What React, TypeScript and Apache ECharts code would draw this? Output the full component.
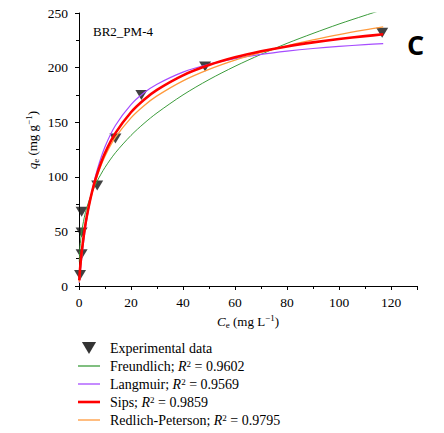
import React, { useEffect, useRef } from "react";
import * as echarts from "echarts";

const expC = [0.4, 1, 1, 1, 7, 14, 24, 48.5, 116.6];
const expQ = [10, 29, 49, 68, 92, 135, 175, 201, 232];

const fitC = [0.1, 0.3, 0.5, 1, 2, 3, 5, 7, 10, 14, 20, 25, 30, 40, 50, 60, 70, 80, 90, 100, 110, 117];
const freundlichQ = [22.3, 32.5, 38.8, 49.2, 62.4, 71.8, 85.6, 96.1, 108.6, 122.0, 137.9, 148.9, 158.5, 175.0, 189.0, 201.2, 212.1, 222.2, 231.3, 239.9, 247.8, 253.2];
const langmuirQ = [2.7, 7.9, 12.9, 24.6, 44.5, 61.1, 87.0, 106.3, 127.5, 147.0, 166.1, 176.9, 184.8, 195.9, 203.1, 208.3, 212.1, 215.1, 217.5, 219.4, 221.0, 222.0];
const sipsQ = [5.2, 12.3, 18.2, 30.4, 49.2, 63.8, 86.1, 102.8, 121.8, 140.0, 159.1, 170.6, 179.6, 192.9, 202.3, 209.4, 214.9, 219.4, 223.1, 226.2, 228.8, 230.5];
const rpQ = [3.4, 9.8, 15.5, 27.9, 47.5, 62.6, 84.8, 101.0, 118.8, 136.0, 154.0, 165.1, 174.1, 187.9, 198.4, 206.9, 213.9, 220.0, 225.3, 230.2, 234.5, 237.2];

const modelNames = ["Freundlich", "Langmuir", "Sips", "Redlich-Peterson"];
const modelR2 = ["0.9602", "0.9569", "0.9859", "0.9795"];
const modelColors = ["#3c9c3c", "#a64dff", "#ff0000", "#ff9a3c"];
const modelWidths = [1, 1.2, 2.6, 1.3];
const modelData = [freundlichQ, langmuirQ, sipsQ, rpQ];

const expName = "Experimental data";
const FONT = "Liberation Serif";
const TRI = "path://M0,0 L10,0 L5,8.5 Z";
const lineIcon = (w: number) => `path://M0,0 L22,0 L22,${w} L0,${w} Z`;

export default function App() {
  const ref = useRef<HTMLDivElement>(null);
  useEffect(() => {
    if (!ref.current) return;
    const chart = echarts.init(ref.current, undefined, { renderer: "svg" });
    const pair = (xs: number[], ys: number[]) => xs.map((x, i) => [x, ys[i]]);
    const series: any[] = [
      {
        name: expName,
        type: "scatter",
        data: pair(expC, expQ),
        symbol: TRI,
        symbolSize: [12, 10],
        itemStyle: { color: "#111" },
        z: 1,
      },
      ...modelNames.map((n, i) => ({
        name: n,
        type: "line",
        data: pair(fitC, modelData[i]),
        smooth: 0.3,
        showSymbol: false,
        symbol: "none",
        lineStyle: { color: modelColors[i], width: modelWidths[i] },
        itemStyle: { color: modelColors[i] },
        z: i === 2 ? 4 : 3,
      })),
    ];
    const rich = {
      g: { fontFamily: FONT, fontSize: 14, width: 5, lineHeight: 14 },
      n: { fontFamily: FONT, fontSize: 14, color: "#000", lineHeight: 14 },
      i: { fontFamily: FONT, fontSize: 14, fontStyle: "italic", color: "#000", lineHeight: 14 },
      sup: { fontFamily: FONT, fontSize: 9, color: "#000", verticalAlign: "top", lineHeight: 14 },
    };
    const nameRich = {
      i: { fontFamily: FONT, fontSize: 13, fontStyle: "italic", color: "#000", lineHeight: 16 },
      n: { fontFamily: FONT, fontSize: 13, color: "#000", lineHeight: 16 },
      sub: { fontFamily: FONT, fontSize: 9, color: "#000", verticalAlign: "bottom", lineHeight: 16 },
      sup: { fontFamily: FONT, fontSize: 9, color: "#000", verticalAlign: "top", lineHeight: 16 },
    };
    chart.setOption({
      animation: false,
      backgroundColor: "#fff",
      textStyle: { fontFamily: FONT },
      grid: { left: 79, right: 27, top: 13, bottom: 147 },
      xAxis: {
        type: "value",
        min: 0,
        max: 130,
        interval: 20,
        name: "{i|C}{sub|e}{n| (mg L}{sup|−1}{n|)}",
        nameLocation: "middle",
        nameGap: 20,
        nameTextStyle: { rich: nameRich, fontFamily: FONT, fontSize: 13, color: "#000", lineHeight: 16 },
        axisLine: { show: true, onZero: false, lineStyle: { color: "#000", width: 1 } },
        axisTick: { show: true, inside: false, length: 4, lineStyle: { color: "#000" } },
        minorTick: { show: true, splitNumber: 2, length: 3, lineStyle: { color: "#000" } },
        splitLine: { show: false },
        axisLabel: {
          fontFamily: FONT,
          fontSize: 13.5,
          color: "#000",
          margin: 9,
          formatter: (v: number) => (v > 120 ? "" : String(v)),
        },
      },
      yAxis: {
        type: "value",
        min: 0,
        max: 250,
        interval: 50,
        axisLine: { show: true, onZero: false, lineStyle: { color: "#000", width: 1 } },
        axisTick: { show: true, inside: false, length: 4, lineStyle: { color: "#000" } },
        minorTick: { show: true, splitNumber: 2, length: 3, lineStyle: { color: "#000" } },
        splitLine: { show: false },
        axisLabel: { fontFamily: FONT, fontSize: 13.5, color: "#000", margin: 11 },
      },
      legend: {
        orient: "vertical",
        left: 78,
        top: 341,
        height: 100,
        itemWidth: 22,
        itemHeight: 12,
        itemGap: 4,
        padding: 0,
        symbolKeepAspect: true,
        data: [
          { name: expName, icon: TRI, itemStyle: { color: "#000" } },
          ...modelNames.map((n, i) => ({
            name: n,
            icon: lineIcon(modelWidths[i] < 2 ? 1.3 : 2.6),
            itemStyle: { color: modelColors[i], borderWidth: 0 },
          })),
        ],
        textStyle: { fontFamily: FONT, fontSize: 14, color: "#000", rich },
        formatter: (name: string) => {
          const idx = modelNames.indexOf(name);
          if (idx < 0) return "{g| }{n|" + name + "}";
          return "{g| }{n|" + name + "; }{i|R}{sup|2}{n| = " + modelR2[idx] + "}";
        },
      },
      graphic: [
        {
          type: "text",
          left: 24,
          top: 111,
          rotation: Math.PI / 2,
          style: {
            text: "{i|q}{sub|e}{n| (mg g}{sup|−1}{n|)}",
            rich: nameRich,
            fontFamily: FONT,
            fontSize: 13,
            fill: "#000",
          },
        },
        {
          type: "text",
          left: 93,
          top: 25,
          style: { text: "BR2_PM-4", fontFamily: FONT, fontSize: 13, fill: "#000" },
        },
        {
          type: "text",
          left: 407,
          top: 31,
          style: { text: "C", fontFamily: "Open Sans", fontWeight: "bold", fontSize: 27, fill: "#000" },
        },
      ],
      series,
    });
    return () => chart.dispose();
  }, []);
  return (
    <div
      ref={ref}
      style={{ position: "absolute", left: 0, top: 0, width: 444, height: 433 }}
    />
  );
}
